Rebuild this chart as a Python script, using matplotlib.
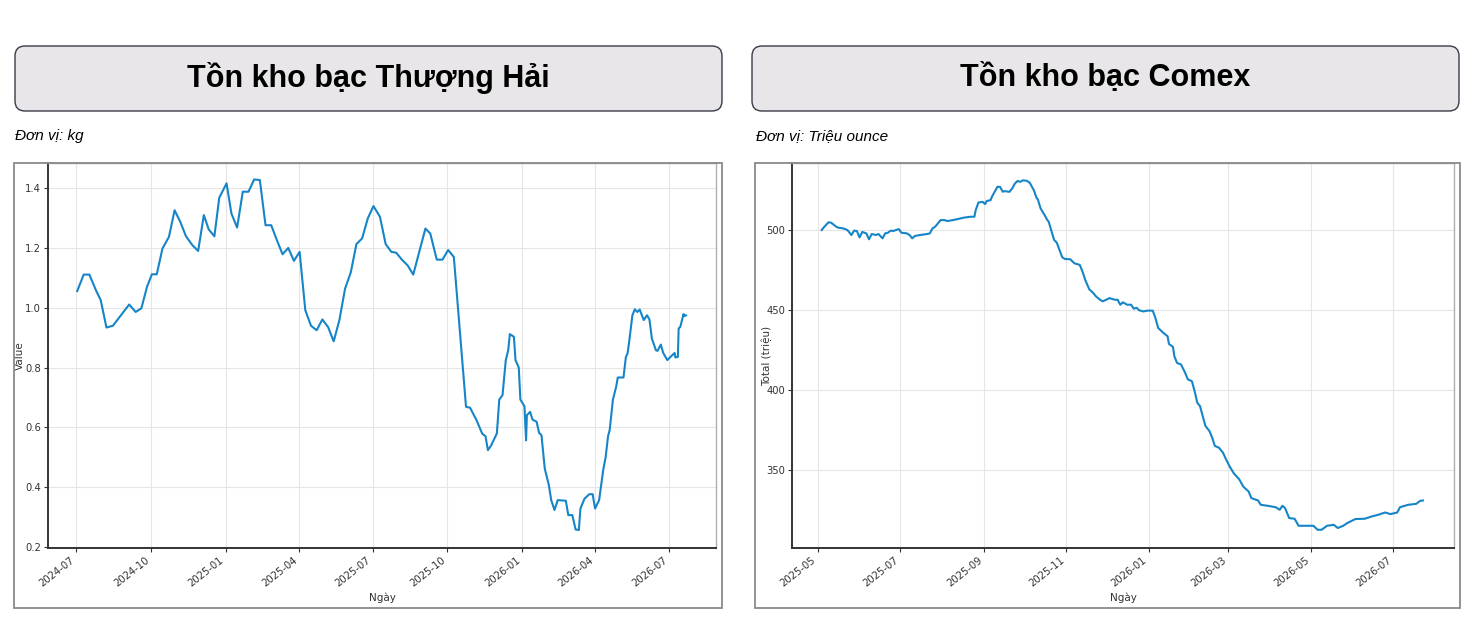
import matplotlib
matplotlib.use("Agg")
import matplotlib.pyplot as plt
import matplotlib.dates as mdates
import pandas as pd
from matplotlib.patches import FancyBboxPatch, Rectangle
from matplotlib.transforms import IdentityTransform

W, H = 1480, 630
BLUE = "#1685c8"

# Ton kho bac Thuong Hai (kg)
sh_dates = [
    "2024-07-02", "2024-07-10", "2024-07-17", "2024-07-25", "2024-07-31", "2024-08-07",
    "2024-08-15", "2024-09-04", "2024-09-12", "2024-09-19", "2024-09-26", "2024-10-02",
    "2024-10-08", "2024-10-15", "2024-10-23", "2024-10-30", "2024-11-06", "2024-11-13",
    "2024-11-21", "2024-11-28", "2024-12-05", "2024-12-11", "2024-12-18", "2024-12-24",
    "2025-01-02", "2025-01-08", "2025-01-15", "2025-01-22", "2025-01-29", "2025-02-05",
    "2025-02-12", "2025-02-19", "2025-02-26", "2025-03-05", "2025-03-12", "2025-03-19",
    "2025-03-26", "2025-04-02", "2025-04-09", "2025-04-16", "2025-04-23", "2025-04-30",
    "2025-05-07", "2025-05-14", "2025-05-21", "2025-05-28", "2025-06-04", "2025-06-11",
    "2025-06-18", "2025-06-25", "2025-07-02", "2025-07-10", "2025-07-17", "2025-07-24",
    "2025-07-30", "2025-08-06", "2025-08-13", "2025-08-20", "2025-08-28", "2025-09-04",
    "2025-09-10", "2025-09-18", "2025-09-25", "2025-10-02", "2025-10-09", "2025-10-24",
    "2025-10-29", "2025-11-06", "2025-11-13", "2025-11-17", "2025-11-20", "2025-11-24",
    "2025-12-01", "2025-12-04", "2025-12-08", "2025-12-12", "2025-12-15", "2025-12-17",
    "2025-12-22", "2025-12-24", "2025-12-28", "2025-12-30", "2026-01-04", "2026-01-06",
    "2026-01-07", "2026-01-11", "2026-01-14", "2026-01-19", "2026-01-22", "2026-01-25",
    "2026-01-29", "2026-02-03", "2026-02-06", "2026-02-10", "2026-02-14", "2026-02-24",
    "2026-02-27", "2026-03-04", "2026-03-08", "2026-03-12", "2026-03-14", "2026-03-19",
    "2026-03-25", "2026-03-29", "2026-04-01", "2026-04-06", "2026-04-11", "2026-04-14",
    "2026-04-17", "2026-04-19", "2026-04-23", "2026-04-27", "2026-04-29", "2026-05-06",
    "2026-05-09", "2026-05-11", "2026-05-13", "2026-05-17", "2026-05-20", "2026-05-23",
    "2026-05-26", "2026-05-31", "2026-06-04", "2026-06-07", "2026-06-10", "2026-06-15",
    "2026-06-17", "2026-06-21", "2026-06-24", "2026-06-29", "2026-07-03", "2026-07-08",
    "2026-07-09", "2026-07-12", "2026-07-13", "2026-07-15", "2026-07-19", "2026-07-20",
    "2026-07-22",
]
sh_values = [
    1.056, 1.111, 1.111, 1.059, 1.025, 0.934,
    0.940, 1.011, 0.986, 0.998, 1.070, 1.112,
    1.112, 1.198, 1.237, 1.326, 1.287, 1.239,
    1.209, 1.190, 1.310, 1.262, 1.239, 1.368,
    1.416, 1.315, 1.268, 1.388, 1.388, 1.429,
    1.427, 1.276, 1.276, 1.226, 1.179, 1.200,
    1.157, 1.187, 0.992, 0.940, 0.925, 0.961,
    0.936, 0.888, 0.959, 1.064, 1.118, 1.213,
    1.232, 1.299, 1.340, 1.304, 1.213, 1.187,
    1.184, 1.161, 1.142, 1.111, 1.193, 1.265,
    1.248, 1.161, 1.161, 1.193, 1.170, 0.669,
    0.666, 0.624, 0.579, 0.571, 0.524, 0.540,
    0.580, 0.693, 0.708, 0.825, 0.858, 0.912,
    0.903, 0.825, 0.800, 0.693, 0.671, 0.557,
    0.641, 0.652, 0.626, 0.619, 0.582, 0.574,
    0.463, 0.408, 0.357, 0.324, 0.357, 0.355,
    0.307, 0.307, 0.259, 0.257, 0.329, 0.362,
    0.377, 0.377, 0.329, 0.357, 0.457, 0.500,
    0.571, 0.591, 0.693, 0.736, 0.767, 0.767,
    0.836, 0.847, 0.886, 0.975, 0.995, 0.986,
    0.994, 0.959, 0.975, 0.961, 0.897, 0.858,
    0.856, 0.877, 0.849, 0.825, 0.836, 0.849,
    0.834, 0.836, 0.931, 0.936, 0.979, 0.972,
    0.975,
]

# Ton kho bac Comex (trieu ounce)
cx_dates = [
    "2025-05-04", "2025-05-06", "2025-05-09", "2025-05-11", "2025-05-14", "2025-05-16",
    "2025-05-20", "2025-05-23", "2025-05-26", "2025-05-28", "2025-05-30", "2025-06-01",
    "2025-06-03", "2025-06-06", "2025-06-08", "2025-06-10", "2025-06-13", "2025-06-15",
    "2025-06-18", "2025-06-20", "2025-06-22", "2025-06-24", "2025-06-26", "2025-06-28",
    "2025-06-30", "2025-07-02", "2025-07-06", "2025-07-08", "2025-07-10", "2025-07-12",
    "2025-07-16", "2025-07-21", "2025-07-23", "2025-07-25", "2025-07-27", "2025-07-29",
    "2025-07-31", "2025-08-03", "2025-08-05", "2025-08-09", "2025-08-13", "2025-08-17",
    "2025-08-22", "2025-08-25", "2025-08-26", "2025-08-28", "2025-08-31", "2025-09-02",
    "2025-09-03", "2025-09-06", "2025-09-07", "2025-09-09", "2025-09-11", "2025-09-13",
    "2025-09-15", "2025-09-16", "2025-09-20", "2025-09-22", "2025-09-24", "2025-09-26",
    "2025-09-28", "2025-09-30", "2025-10-03", "2025-10-05", "2025-10-08", "2025-10-10",
    "2025-10-11", "2025-10-13", "2025-10-16", "2025-10-18", "2025-10-19", "2025-10-21",
    "2025-10-23", "2025-10-25", "2025-10-27", "2025-10-29", "2025-10-31", "2025-11-04",
    "2025-11-07", "2025-11-11", "2025-11-13", "2025-11-15", "2025-11-18", "2025-11-21",
    "2025-11-23", "2025-11-26", "2025-11-28", "2025-12-03", "2025-12-07", "2025-12-09",
    "2025-12-11", "2025-12-13", "2025-12-16", "2025-12-19", "2025-12-21", "2025-12-23",
    "2025-12-25", "2025-12-28", "2025-12-31", "2026-01-04", "2026-01-06", "2026-01-08",
    "2026-01-12", "2026-01-15", "2026-01-16", "2026-01-19", "2026-01-20", "2026-01-22",
    "2026-01-25", "2026-01-28", "2026-01-30", "2026-02-02", "2026-02-04", "2026-02-06",
    "2026-02-08", "2026-02-10", "2026-02-12", "2026-02-15", "2026-02-17", "2026-02-19",
    "2026-02-22", "2026-02-25", "2026-02-27", "2026-03-02", "2026-03-05", "2026-03-09",
    "2026-03-12", "2026-03-16", "2026-03-18", "2026-03-23", "2026-03-25", "2026-03-30",
    "2026-04-05", "2026-04-08", "2026-04-10", "2026-04-12", "2026-04-15", "2026-04-19",
    "2026-04-22", "2026-04-27", "2026-05-03", "2026-05-06", "2026-05-09", "2026-05-13",
    "2026-05-18", "2026-05-21", "2026-05-25", "2026-05-28", "2026-06-03", "2026-06-10",
    "2026-06-15", "2026-06-20", "2026-06-25", "2026-06-29", "2026-07-04", "2026-07-06",
    "2026-07-12", "2026-07-18", "2026-07-21", "2026-07-23",
]
cx_values = [
    500.0, 502.1, 504.8, 504.6, 502.5, 501.5,
    501.0, 500.0, 496.9, 499.6, 499.4, 495.4,
    498.8, 497.9, 494.2, 497.5, 496.9, 497.5,
    494.8, 497.9, 498.3, 499.6, 499.4, 500.0,
    500.6, 498.3, 497.9, 496.9, 494.8, 496.3,
    496.9, 497.5, 497.9, 501.0, 502.1, 504.2,
    506.2, 506.2, 505.6, 506.2, 506.9, 507.7,
    508.3, 508.3, 512.5, 517.2, 517.6, 516.2,
    518.1, 518.7, 520.8, 523.9, 527.0, 527.0,
    523.9, 524.3, 523.9, 526.0, 529.1, 530.7,
    530.1, 531.1, 530.7, 529.5, 524.9, 520.1,
    519.1, 513.5, 509.3, 506.2, 505.2, 499.6,
    493.8, 492.1, 487.5, 483.0, 481.9, 481.7,
    479.2, 478.2, 474.1, 468.9, 463.0, 460.6,
    458.5, 456.4, 455.4, 457.4, 456.4, 456.4,
    453.3, 454.8, 453.3, 453.3, 450.8, 451.4,
    449.8, 449.1, 449.6, 449.6, 445.0, 438.8,
    435.6, 433.6, 428.8, 426.9, 421.1, 416.9,
    415.9, 410.7, 406.6, 405.5, 399.3, 392.0,
    389.9, 383.7, 377.5, 374.3, 370.2, 365.0,
    363.9, 360.8, 357.1, 352.1, 347.9, 344.2,
    339.6, 336.5, 332.4, 330.9, 328.2, 327.6,
    326.7, 325.1, 327.6, 326.1, 319.9, 319.5,
    315.1, 315.1, 315.1, 312.6, 312.6, 315.1,
    315.7, 313.7, 315.1, 316.8, 319.3, 319.5,
    320.9, 322.0, 323.4, 322.4, 323.4, 326.7,
    328.2, 328.8, 330.7, 330.9,
]

sh_yticks = [0.2, 0.4, 0.6, 0.8, 1.0, 1.2, 1.4]
cx_yticks = [350, 400, 450, 500]

fig = plt.figure(figsize=(W / 100, H / 100), dpi=100)
fig.patch.set_facecolor("white")


def pbox(x0, y0, x1, y1):
    # pixel box, origin top-left -> display coords
    return x0, H - y1, x1 - x0, y1 - y0


def header(x0, x1, title, unit, unit_x):
    x, y, w, h = pbox(x0, 46, x1, 111)
    fig.add_artist(FancyBboxPatch((x, y), w, h, boxstyle="round,pad=0,rounding_size=10",
                                  transform=IdentityTransform(), facecolor="#e8e6e8",
                                  edgecolor="#3b3b48", linewidth=1.0))
    fig.text((x0 + x1) / 2 / W, 1 - 78 / H, title, ha="center", va="center",
             fontsize=22, fontweight="bold", family="Liberation Sans", color="black")
    fig.text(unit_x / W, 1 - 136 / H, unit, ha="left", va="center",
             fontsize=11, style="italic", family="Liberation Sans", color="black")


def frame(x0, x1):
    x, y, w, h = pbox(x0, 163, x1, 608)
    fig.add_artist(Rectangle((x, y), w, h, transform=IdentityTransform(),
                             facecolor="none", edgecolor="#8a8a8a", linewidth=1.3))


def panel(ax_px, dates, values, xlim, ylim, yticks, months, ylabel, yfmt, label_x):
    x0, y0, x1, y1 = ax_px
    ax = fig.add_axes([x0 / W, 1 - y1 / H, (x1 - x0) / W, (y1 - y0) / H])
    ax.plot(pd.to_datetime(dates), values, color=BLUE, lw=1.5)
    ax.set_xlim(pd.Timestamp(xlim[0]), pd.Timestamp(xlim[1]))
    ax.set_ylim(*ylim)
    ax.set_yticks(yticks)
    ax.set_yticklabels([yfmt.format(v) for v in yticks])
    ax.xaxis.set_major_locator(mdates.MonthLocator(bymonth=months))
    ax.xaxis.set_major_formatter(mdates.DateFormatter("%Y-%m"))
    ax.grid(True, color="#e6e6e6", lw=0.8)
    ax.set_axisbelow(True)
    for s in ("left", "bottom"):
        ax.spines[s].set_color("#333333")
        ax.spines[s].set_linewidth(1.4)
    for s in ("top", "right"):
        ax.spines[s].set_color("#b0b0b0")
        ax.spines[s].set_linewidth(1.0)
    ax.tick_params(axis="both", labelsize=7.2, colors="#333333", length=3, width=0.8, pad=2)
    for lab in ax.get_xticklabels():
        lab.set_rotation(38)
        lab.set_ha("right")
    ax.set_xlabel("Ngày", fontsize=7.5, color="#333333", labelpad=3)
    ax.set_ylabel(ylabel, fontsize=7.5, color="#333333")
    ax.yaxis.set_label_coords((label_x - x0) / (x1 - x0), 0.5)
    return ax


header(15, 722, "Tồn kho bạc Thượng Hải", "Đơn vị: kg", 15)
header(752, 1459, "Tồn kho bạc Comex", "Đơn vị: Triệu ounce", 756)
frame(14, 722)
frame(755, 1460)

panel((48, 163, 716, 548), sh_dates, sh_values, ("2024-05-27", "2026-08-28"),
      (0.197, 1.484), sh_yticks, [1, 4, 7, 10], "Value", "{:.1f}", 25)
panel((792, 163, 1454, 548), cx_dates, cx_values, ("2025-04-12", "2026-08-15"),
      (301.2, 541.9), cx_yticks, [1, 3, 5, 7, 9, 11], "Total (triệu)", "{:.0f}", 772)

fig.savefig("out.png", dpi=100, facecolor="white")
